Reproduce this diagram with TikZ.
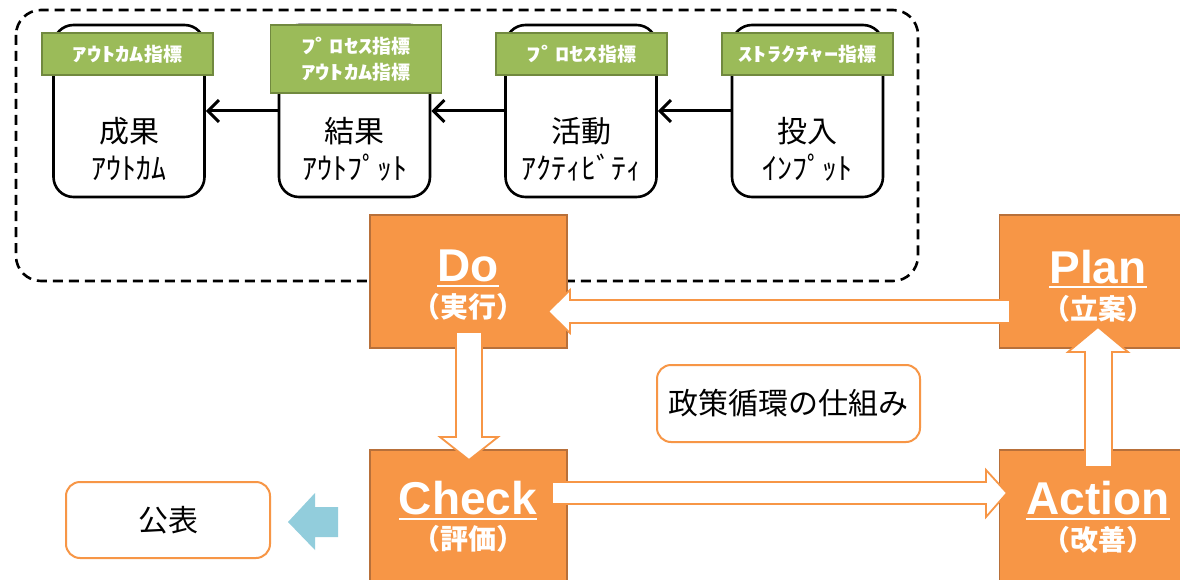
\documentclass[tikz,border=0pt]{standalone}
\usepackage{fontspec}
\newfontfamily\jp{Noto Sans CJK JP}
\newfontfamily\jphw{Noto Sans CJK JP}[FakeStretch=1.5]
\newfontfamily\lat{Liberation Sans}
\usetikzlibrary{arrows.meta}
\definecolor{org}{HTML}{F79646}
\definecolor{orgdark}{HTML}{B8703A}
\definecolor{grn}{HTML}{9BBB59}
\definecolor{grndark}{HTML}{71893F}
\definecolor{lblue}{HTML}{92CDDC}
\newcommand{\hw}[1]{{\jphw #1}}
\tikzset{
  dashbox/.style={draw=black, line width=2.6pt, dash pattern=on 10pt off 6pt, rounded corners=25pt},
  stage/.style={draw=black, line width=2.6pt, fill=white, rounded corners=20pt, minimum width=151pt, minimum height=172pt, inner sep=0pt},
  stagetext/.style={align=center, font=\jp\fontsize{30}{37}\selectfont, inner sep=0pt},
  tag/.style={draw=grndark, line width=1.5pt, fill=grn, minimum width=171pt, minimum height=42pt, inner sep=0pt, text=white, align=center, font=\jp\bfseries\fontsize{19}{26}\selectfont},
  flow/.style={draw=black, line width=3pt, -{Straight Barb[length=11pt, width=22pt, line width=3pt]}},
  pdca/.style={draw=orgdark, line width=1.2pt, fill=org, minimum width=197pt, minimum height=133pt, inner sep=0pt},
  pdcatitle/.style={text=white, inner sep=0pt, anchor=base, font=\lat\bfseries\fontsize{46}{46}\selectfont},
  pdcasub/.style={text=white, inner sep=0pt, font=\jp\bfseries\fontsize{28}{28}\selectfont},
  uline/.style={draw=white, line width=2pt},
  blockarrow/.style={draw=org, line width=1.8pt, fill=white, line join=miter},
  infobox/.style={draw=org, line width=2pt, fill=white, rounded corners=14pt, inner sep=0pt, font=\jp\fontsize{30}{30}\selectfont}
}
\begin{document}
\begin{tikzpicture}[x=1pt,y=-1pt]
\useasboundingbox (0,0) rectangle (1180,580);
\fill[white] (0,0) rectangle (1180,580);
\begin{scope}
\clip (0,0) rectangle (1180,580);
% dashed frame
\draw[dashbox] (16,10) rectangle (918,281);
% stages
\node[stage] (outc) at (129,111) {};
\node[stage] (outp) at (354.5,111) {};
\node[stage] (actv) at (581,111) {};
\node[stage] (inpt) at (807.5,111) {};
\node[stagetext] (outct) at (129,149) {成果\\ｱｳﾄｶﾑ};
\node[stagetext] (outpt) at (354.5,149) {結果\\ｱｳﾄﾌﾟｯﾄ};
\node[stagetext] (actvt) at (581,149) {活動\\ｱｸﾃｨﾋﾞﾃｨ};
\node[stagetext] (inptt) at (807.5,149) {投入\\ｲﾝﾌﾟｯﾄ};
% tags
\node[tag] (tag1) at (127.5,54) {\hw{ｱｳﾄｶﾑ}指標};
\node[tag, minimum height=68pt] (tag2) at (356,59) {\hw{ﾌﾟﾛｾｽ}指標\\\hw{ｱｳﾄｶﾑ}指標};
\node[tag] (tag3) at (581.5,54) {\hw{ﾌﾟﾛｾｽ}指標};
\node[tag] (tag4) at (807.5,54) {\hw{ｽﾄﾗｸﾁｬｰ}指標};
% flow arrows
\draw[flow] (outp.west) -- (outc.east);
\draw[flow] (actv.west) -- (outp.east);
\draw[flow] (inpt.west) -- (actv.east);
% PDCA boxes
\node[pdca] (do) at (468.5,281.5) {};
\node[pdca] (plan) at (1098,281.5) {};
\node[pdca] (check) at (468.5,516.5) {};
\node[pdca] (action) at (1098,516.5) {};
% titles
\node[pdcatitle] (dot) at (468,281) {Do};
\node[pdcatitle] (plant) at (1098,283) {Plan};
\node[pdcatitle] (checkt) at (468,514) {Check};
\node[pdcatitle] (actiont) at (1098,514) {Action};
\draw[uline] ([yshift=-5pt]dot.base west) -- ([yshift=-5pt]dot.base east);
\draw[uline] ([yshift=-4pt]plant.base west) -- ([yshift=-4pt]plant.base east);
\draw[uline] ([yshift=-5pt]checkt.base west) -- ([yshift=-5pt]checkt.base east);
\draw[uline] ([yshift=-5pt]actiont.base west) -- ([yshift=-5pt]actiont.base east);
\node[pdcasub] (dos) at (468,307) {（実行）};
\node[pdcasub] (plans) at (1098,309) {（立案）};
\node[pdcasub] (checks) at (468,539) {（評価）};
\node[pdcasub] (actions) at (1098,540) {（改善）};
% block arrows
\draw[blockarrow] (548,311.5) -- (570,290) -- (570,300) -- (1010,300) -- (1010,323) -- (570,323) -- (570,333) -- cycle;
\draw[blockarrow] (469,460) -- (440,437) -- (456,437) -- (456,332) -- (482,332) -- (482,437) -- (498,437) -- cycle;
\draw[blockarrow] (1007,493) -- (986,470) -- (986,482) -- (552,482) -- (552,504) -- (986,504) -- (986,517) -- cycle;
\draw[blockarrow] (1098,327) -- (1068,352) -- (1085,352) -- (1085,467) -- (1112,467) -- (1112,352) -- (1128,352) -- cycle;
% info boxes
\node[infobox, minimum width=263pt, minimum height=77pt] (cycle) at (788.5,403.5) {政策循環の仕組み};
\node[infobox, minimum width=204pt, minimum height=76pt] (pub) at (168,520) {公表};
% light blue arrow
\fill[lblue] (288,522) -- (315,493) -- (315,507) -- (338,507) -- (338,537) -- (315,537) -- (315,550) -- cycle;
\end{scope}
\end{tikzpicture}
\end{document}
